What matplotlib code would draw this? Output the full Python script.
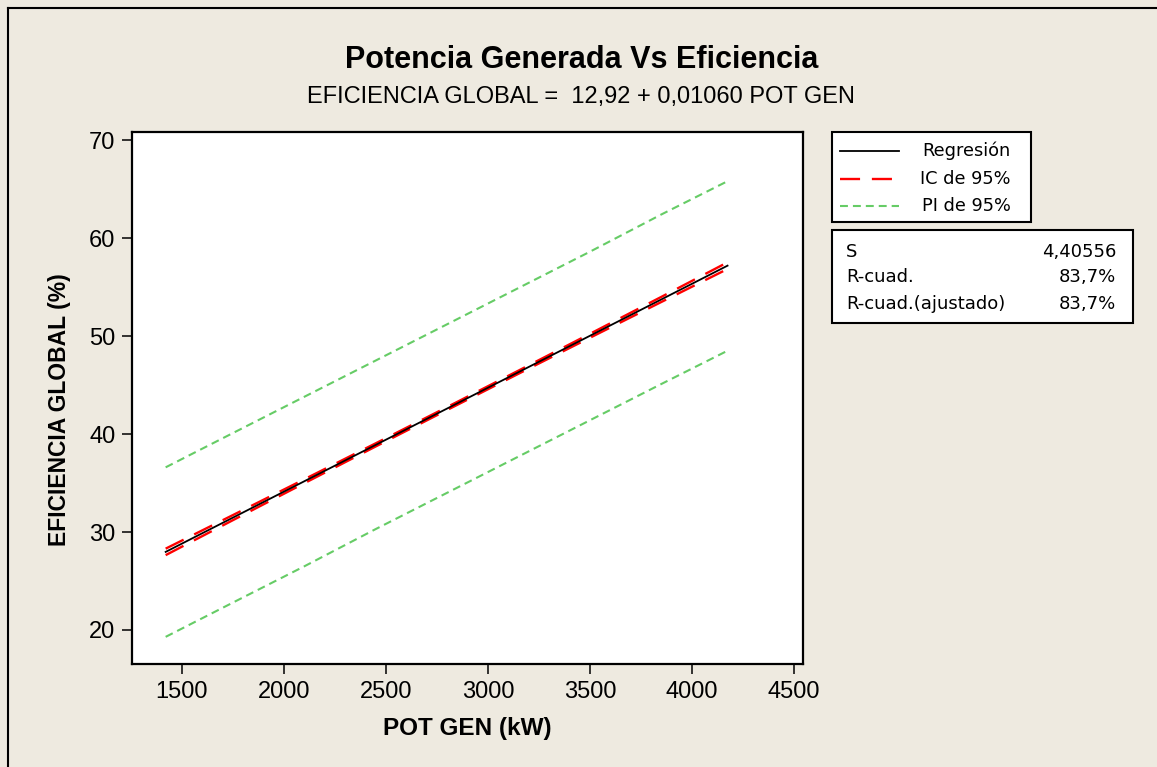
import matplotlib
matplotlib.use("Agg")
import matplotlib.pyplot as plt
from matplotlib.lines import Line2D
from matplotlib.patches import Rectangle

# ---- data ----
pot_gen = [1420, 1750, 2100, 2450, 2800, 3150, 3500, 3850, 4175]
regresion = [27.97, 31.47, 35.18, 38.89, 42.60, 46.31, 50.02, 53.73, 57.18]
ic_sup = [28.30, 31.73, 35.38, 39.05, 42.75, 46.47, 50.22, 53.99, 57.52]
ic_inf = [27.64, 31.21, 34.98, 38.73, 42.45, 46.15, 49.82, 53.47, 56.84]
pi_sup = [36.6, 40.1, 43.8, 47.5, 51.2, 54.9, 58.6, 62.4, 65.8]
pi_inf = [19.3, 22.8, 26.5, 30.3, 34.0, 37.7, 41.4, 45.1, 48.5]

x_ticks = [1500, 2000, 2500, 3000, 3500, 4000, 4500]
y_ticks = [20, 30, 40, 50, 60, 70]

title = "Potencia Generada Vs Eficiencia"
subtitle = "EFICIENCIA GLOBAL =  12,92 + 0,01060 POT GEN"
xlabel = "POT GEN (kW)"
ylabel = "EFICIENCIA GLOBAL (%)"
legend_labels = ["Regresión", "IC de 95%", "PI de 95%"]
stat_names = ["S", "R-cuad.", "R-cuad.(ajustado)"]
stat_values = ["4,40556", "83,7%", "83,7%"]

BG = "#EEEAE0"
RED = "#FF0000"
GREEN = "#66CC66"

W, H = 1157, 767
fig = plt.figure(figsize=(W / 100, H / 100), dpi=100, facecolor=BG)

def fx(px):
    return px / W

def fy(py):
    return 1 - py / H

# figure frame (top and left edges visible)
fig.add_artist(Line2D([fx(8), fx(8)], [fy(8), fy(H + 5)], color="black", lw=1.5,
                      transform=fig.transFigure))
fig.add_artist(Line2D([fx(8), fx(W + 5)], [fy(8), fy(8)], color="black", lw=1.5,
                      transform=fig.transFigure))

ax = fig.add_axes([fx(132), fy(664), fx(803) - fx(132), fy(132) - fy(664)])
ax.set_facecolor("white")

reg_style = dict(color="black", lw=1.3, linestyle="-")
ic_style = dict(color=RED, lw=1.7, linestyle=(0, (8.5, 5.0)))
pi_style = dict(color=GREEN, lw=1.5, linestyle=(0, (3.8, 2.4)))

ax.plot(pot_gen, pi_sup, **pi_style)
ax.plot(pot_gen, pi_inf, **pi_style)
ax.plot(pot_gen, ic_sup, **ic_style)
ax.plot(pot_gen, ic_inf, **ic_style)
ax.plot(pot_gen, regresion, **reg_style)

ax.set_xlim(1255, 4545)
ax.set_ylim(16.53, 70.82)
ax.set_xticks(x_ticks)
ax.set_yticks(y_ticks)
ax.tick_params(axis="both", direction="out", length=7, width=1.1, labelsize=17,
               colors="black", pad=5)
for lab in ax.get_xticklabels() + ax.get_yticklabels():
    lab.set_family("Liberation Sans")
for sp in ax.spines.values():
    sp.set_linewidth(1.6)
    sp.set_color("black")

# titles and axis labels
fig.text(0.503, fy(60), title, ha="center", va="center", fontsize=22,
         fontweight="bold", family="Liberation Sans")
fig.text(0.502, fy(97), subtitle, ha="center", va="center", fontsize=17,
         family="Liberation Sans")
fig.text(fx(467), fy(728), xlabel, ha="center", va="center", fontsize=17.5,
         fontweight="bold", family="Liberation Sans")
fig.text(fx(60), fy(410), ylabel, ha="center", va="center", fontsize=16.5,
         fontweight="bold", family="Liberation Sans", rotation=90)

# legend box
fig.add_artist(Rectangle((fx(832), fy(222)), fx(1031) - fx(832), fy(132) - fy(222),
                         transform=fig.transFigure, facecolor="white",
                         edgecolor="black", lw=1.5))
styles = [reg_style, ic_style, pi_style]
rows = [151, 179, 206]
for lab, st, ry in zip(legend_labels, styles, rows):
    fig.add_artist(Line2D([fx(840), fx(899)], [fy(ry), fy(ry)],
                          transform=fig.transFigure, **st))
    fig.text(fx(1011), fy(ry), lab, ha="right", va="center", fontsize=12.8,
             family="DejaVu Sans")

# statistics box
fig.add_artist(Rectangle((fx(832), fy(323)), fx(1133) - fx(832), fy(230) - fy(323),
                         transform=fig.transFigure, facecolor="white",
                         edgecolor="black", lw=1.5))
for name, val, ry in zip(stat_names, stat_values, [252, 277, 304]):
    fig.text(fx(846), fy(ry), name, ha="left", va="center", fontsize=13,
             family="DejaVu Sans")
    fig.text(fx(1116), fy(ry), val, ha="right", va="center", fontsize=13,
             family="DejaVu Sans")

fig.savefig("out.png", dpi=100, facecolor=BG)
